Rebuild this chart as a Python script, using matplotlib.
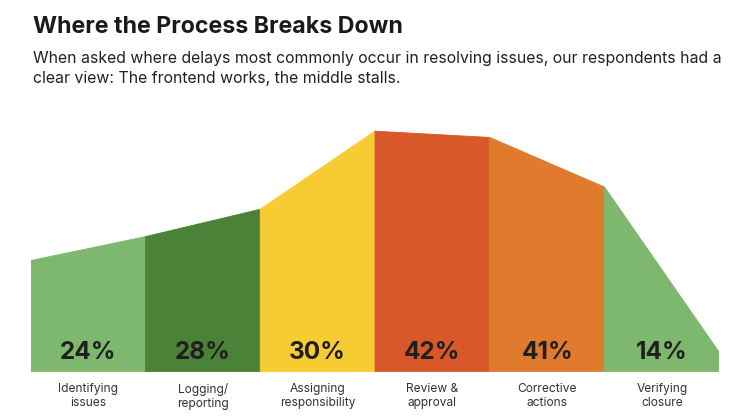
import matplotlib
matplotlib.use("Agg")
import matplotlib.pyplot as plt
from matplotlib.patches import Polygon

# ---- data ----
categories = ["Identifying\nissues", "Logging/\nreporting", "Assigning\nresponsibility",
              "Review &\napproval", "Corrective\nactions", "Verifying\nclosure"]
values = [24, 28, 30, 42, 41, 14]
# height of the shaped profile at each segment boundary (7 edges for 6 segments)
edge_heights = [19.5, 23.7, 28.5, 42.2, 41.1, 32.4, 3.4]
colors = ["#7DB86E", "#4A8238", "#F7CB32", "#D9582A", "#E07B2E", "#7DB86E"]

title = "Where the Process Breaks Down"
subtitle = ("When asked where delays most commonly occur in resolving issues, our respondents had a\n"
            "clear view: The frontend works, the middle stalls.")

W, H = 750, 419
fig = plt.figure(figsize=(W / 100, H / 100), dpi=100)
fig.patch.set_facecolor("white")

# axes placement in pixels
left_px, right_px = 30.7, 719.3
base_px = H - 371.7
ymax = 50
px_per_unit = 5.7
ax = fig.add_axes([left_px / W, base_px / H, (right_px - left_px) / W, ymax * px_per_unit / H])
ax.set_xlim(0, len(values))
ax.set_ylim(0, ymax)
ax.axis("off")

for i, (v, c) in enumerate(zip(values, colors)):
    poly = Polygon([(i, 0), (i, edge_heights[i]), (i + 1, edge_heights[i + 1]), (i + 1, 0)],
                   closed=True, facecolor=c, edgecolor=c, linewidth=0.6)
    ax.add_patch(poly)
    ax.text(i + 0.5, 3.3, f"{v}%", ha="center", va="center", fontsize=17.5,
            fontweight="bold", color="#1f1f1f", family="Inter")
    ax.text(i + 0.5, -1.9, categories[i], ha="center", va="top", fontsize=8.6,
            color="#333333", family="Inter", linespacing=1.3, clip_on=False)

fig.text(33 / W, 1 - 33 / H, title, ha="left", va="baseline", fontsize=16.7,
         fontweight="bold", color="#1a1a1a", family="Inter")
fig.text(33 / W, 1 - 51 / H, subtitle, ha="left", va="top", fontsize=11.4,
         color="#222222", family="Inter", linespacing=1.45)

fig.savefig("out.png", dpi=100, facecolor="white")
